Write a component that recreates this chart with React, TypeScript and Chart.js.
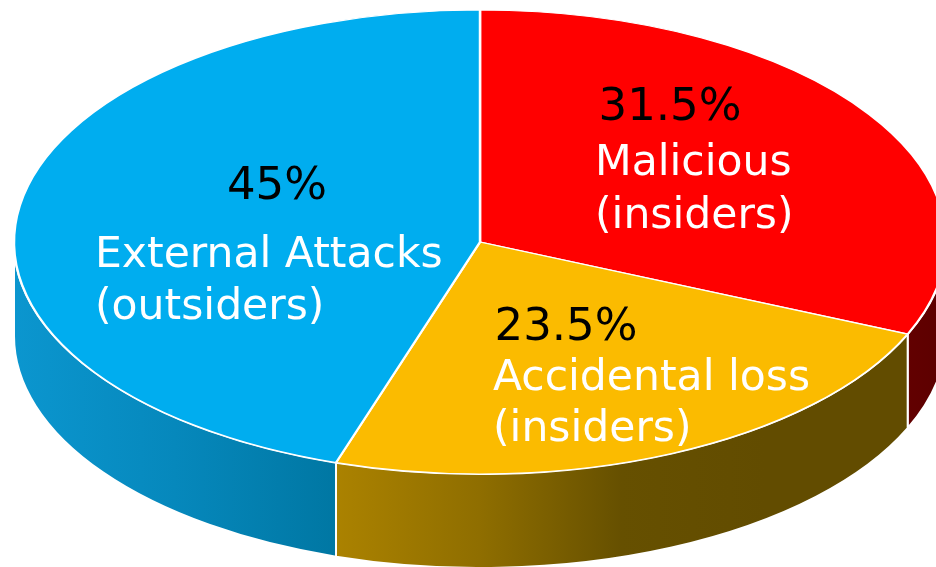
import React, { useEffect, useRef } from "react";
import { Chart, registerables } from "chart.js";

Chart.register(...registerables);

const categories = ["Malicious (insiders)", "Accidental loss (insiders)", "External Attacks (outsiders)"];
const shares = [31.5, 23.5, 45];
const percentLabels = ["31.5%", "23.5%", "45%"];
const nameLines = [
  ["Malicious", "(insiders)"],
  ["Accidental loss", "(insiders)"],
  ["External Attacks", "(outsiders)"],
];

const topColors = ["#ff0000", "#fbbb00", "#00adef"];
// wall gradient stops, left to right across each visible side wall
const wallColors = [
  ["#620000", "#5c0000"],
  ["#ab8200", "#8f6e00", "#665000", "#624c00", "#624c00"],
  ["#0b96cf", "#0688bc", "#0077a3"],
];
// anchor of each percent label, and of the first and second name line
const percentAnchors = [
  [670, 108],
  [566, 328],
  [277, 187],
];
const nameAnchors = [
  [595, 164, 217],
  [493, 379, 430],
  [95, 256, 308],
];

const CX = 480, CY = 242, RX = 466, RY = 232, DEPTH = 94;

const pie3d = {
  id: "pie3d",
  beforeDatasetsDraw(chart: any) {
    const ctx = chart.ctx;
    const arcs = chart.getDatasetMeta(0).data;
    const px = (a: number) => CX + RX * Math.cos(a);
    const py = (a: number) => CY + RY * Math.sin(a);
    arcs.forEach((arc: any, i: number) => {
      const a0 = Math.max(arc.startAngle, 0);
      const a1 = Math.min(arc.endAngle, Math.PI);
      if (a0 >= a1) return;
      const x0 = Math.min(px(a0), px(a1));
      const x1 = Math.max(px(a0), px(a1));
      const g = ctx.createLinearGradient(x0, 0, x1, 0);
      const stops = wallColors[i];
      stops.forEach((c: string, k: number) => g.addColorStop(k / (stops.length - 1), c));
      ctx.beginPath();
      ctx.ellipse(CX, CY, RX, RY, 0, a0, a1, false);
      ctx.lineTo(px(a1), py(a1) + DEPTH);
      ctx.ellipse(CX, CY + DEPTH, RX, RY, 0, a1, a0, true);
      ctx.closePath();
      ctx.fillStyle = g;
      ctx.fill();
      ctx.strokeStyle = "#ffffff";
      ctx.lineWidth = 2;
      ctx.stroke();
    });
    const a = arcs[0];
    ctx.save();
    ctx.translate(CX, CY);
    ctx.scale(RX / a.outerRadius, RY / a.outerRadius);
    ctx.translate(-a.x, -a.y);
  },
  afterDatasetsDraw(chart: any) {
    chart.ctx.restore();
  },
  afterDraw(chart: any) {
    const ctx = chart.ctx;
    ctx.save();
    ctx.textBaseline = "middle";
    percentLabels.forEach((text, i) => {
      ctx.font = '45px "DejaVu Sans"';
      ctx.textAlign = "center";
      ctx.fillStyle = "#000000";
      ctx.fillText(text, percentAnchors[i][0], percentAnchors[i][1]);
    });
    nameLines.forEach((lines, i) => {
      ctx.font = '42.5px "DejaVu Sans"';
      ctx.textAlign = "left";
      ctx.fillStyle = "#ffffff";
      lines.forEach((text, k) => ctx.fillText(text, nameAnchors[i][0], nameAnchors[i][k + 1]));
    });
    ctx.restore();
  },
};

export default function App() {
  const ref = useRef<HTMLCanvasElement>(null);
  useEffect(() => {
    document.body.style.margin = "0";
    document.body.style.background = "#ffffff";
    const chart = new Chart(ref.current!, {
      type: "pie",
      data: {
        labels: categories,
        datasets: [
          {
            data: shares,
            backgroundColor: topColors,
            borderColor: "#ffffff",
            borderWidth: 1.5,
            clip: false,
          } as any,
        ],
      },
      options: {
        responsive: false,
        animation: false,
        layout: { padding: 0 },
        plugins: { legend: { display: false }, tooltip: { enabled: false } },
      },
      plugins: [pie3d],
    });
    return () => chart.destroy();
  }, []);
  return <canvas ref={ref} width={936} height={567} style={{ display: "block", width: 936, height: 567 }} />;
}
